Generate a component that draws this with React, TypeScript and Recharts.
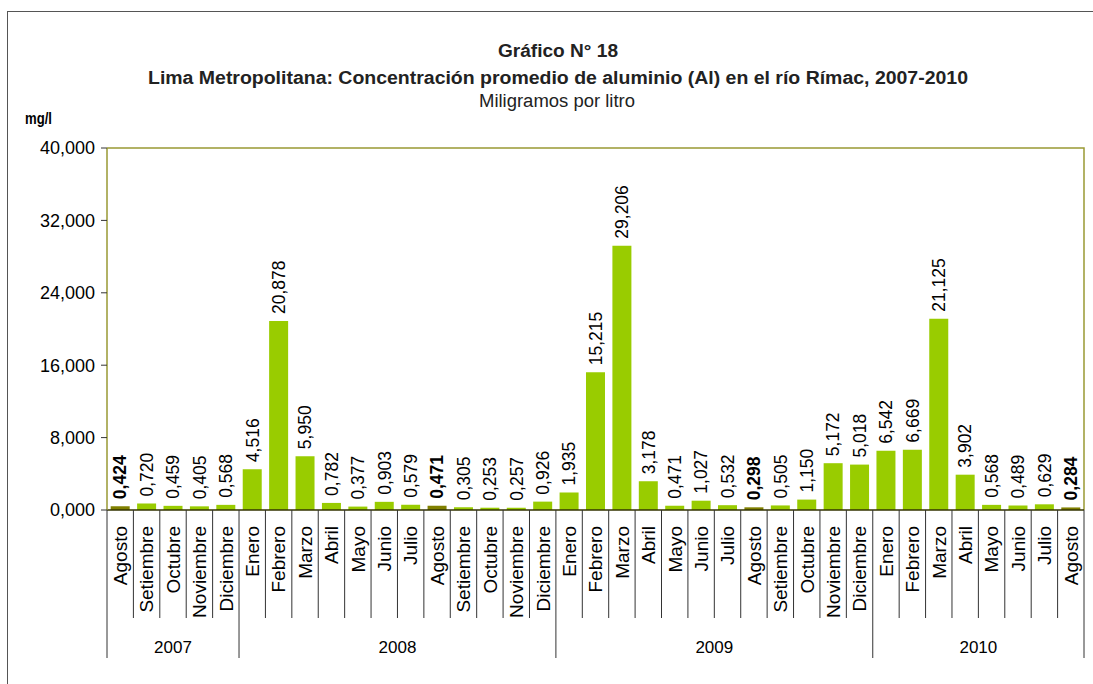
import React from 'react';
import { BarChart, Bar, XAxis, YAxis, Cell, LabelList } from 'recharts';

const months = [
  'Agosto', 'Setiembre', 'Octubre', 'Noviembre', 'Diciembre',
  'Enero', 'Febrero', 'Marzo', 'Abril', 'Mayo', 'Junio', 'Julio', 'Agosto', 'Setiembre', 'Octubre', 'Noviembre', 'Diciembre',
  'Enero', 'Febrero', 'Marzo', 'Abril', 'Mayo', 'Junio', 'Julio', 'Agosto', 'Setiembre', 'Octubre', 'Noviembre', 'Diciembre',
  'Enero', 'Febrero', 'Marzo', 'Abril', 'Mayo', 'Junio', 'Julio', 'Agosto',
];

const values = [
  0.424, 0.720, 0.459, 0.405, 0.568,
  4.516, 20.878, 5.950, 0.782, 0.377, 0.903, 0.579, 0.471, 0.305, 0.253, 0.257, 0.926,
  1.935, 15.215, 29.206, 3.178, 0.471, 1.027, 0.532, 0.298, 0.505, 1.150, 5.172, 5.018,
  6.542, 6.669, 21.125, 3.902, 0.568, 0.489, 0.629, 0.284,
];

const highlighted = [0, 12, 24, 36];

const years = ['2007', '2008', '2009', '2010'];
const yearCounts = [5, 12, 12, 8];

const yTicks = [0, 8, 16, 24, 32, 40];

const data = months.map((m, i) => ({ key: `${i}`, month: m, value: values[i] }));

const W = 1093;
const H = 684;
const PLOT_L = 107;
const PLOT_R = 1084;
const PLOT_T = 148;
const PLOT_B = 510;
const BW = (PLOT_R - PLOT_L) / months.length;
const YAXIS_W = 60;
const XAXIS_H = 150;

const FONT = '"Liberation Sans", Arial, sans-serif';
const NARROW = '"Liberation Sans Narrow", "Arial Narrow", "Liberation Sans", sans-serif';
const BAR = '#99CC00';
const BAR_DARK = '#808000';
const OLIVE = '#999933';

const fmt = (v: number) => v.toFixed(3).replace('.', ',');

const yearStarts: number[] = [];
{
  let acc = 0;
  for (const c of yearCounts) {
    yearStarts.push(acc);
    acc += c;
  }
}

const MonthTick = (props: any) => {
  const { x, index } = props;
  const left = x - BW / 2;
  const yi = yearStarts.indexOf(index);
  const ty = PLOT_B + 16;
  return (
    <g>
      <text
        x={x}
        y={ty}
        dy="0.36em"
        textAnchor="end"
        transform={`rotate(-90, ${x}, ${ty})`}
        fontSize={19}
        fontFamily={FONT}
        fill="#000"
      >
        {months[index]}
      </text>
      <line x1={left} x2={left} y1={PLOT_B} y2={yi >= 0 ? 658 : 618} stroke="#333" strokeWidth={1} />
      {index === months.length - 1 && (
        <line x1={left + BW} x2={left + BW} y1={PLOT_B} y2={658} stroke="#333" strokeWidth={1} />
      )}
      {yi >= 0 && (
        <text
          x={left + (yearCounts[yi] * BW) / 2}
          y={653}
          textAnchor="middle"
          fontSize={17}
          fontFamily={FONT}
          fill="#000"
        >
          {years[yi]}
        </text>
      )}
    </g>
  );
};

const ValueLabel = (props: any) => {
  const { x, y, width, value, index } = props;
  const cx = x + width / 2;
  const ty = y - 7;
  const bold = highlighted.includes(index);
  return (
    <text
      x={cx}
      y={ty}
      dy="0.36em"
      textAnchor="start"
      transform={`rotate(-90, ${cx}, ${ty})`}
      fontSize={17.5}
      fontWeight={bold ? 'bold' : 'normal'}
      fontFamily={FONT}
      fill="#000"
    >
      {fmt(value)}
    </text>
  );
};

export default function App() {
  return (
    <div style={{ position: 'absolute', left: 0, top: 0, width: W, height: H, background: '#fff' }}>
      <BarChart
        width={W}
        height={H}
        data={data}
        margin={{ top: PLOT_T, right: W - PLOT_R, left: PLOT_L - YAXIS_W, bottom: H - PLOT_B - XAXIS_H }}
        barCategoryGap="14%"
      >
        <rect x={7.5} y={11.5} width={1100} height={700} fill="none" stroke="#555" strokeWidth={1} />
        <polyline
          points={`${PLOT_L},${PLOT_T} ${PLOT_R},${PLOT_T} ${PLOT_R},${PLOT_B}`}
          fill="none"
          stroke={OLIVE}
          strokeWidth={1.5}
        />
        <text x={558} y={57} textAnchor="middle" fontFamily={NARROW} fontWeight="bold" fontSize={18} fill="#222" textLength={120} lengthAdjust="spacingAndGlyphs">
          Gráfico N° 18
        </text>
        <text x={558} y={84} textAnchor="middle" fontFamily={NARROW} fontWeight="bold" fontSize={18} fill="#222" textLength={820} lengthAdjust="spacingAndGlyphs">
          Lima Metropolitana: Concentración promedio de aluminio (Al) en el río Rímac, 2007-2010
        </text>
        <text x={557} y={107} textAnchor="middle" fontFamily={NARROW} fontSize={18} fill="#222" textLength={156} lengthAdjust="spacingAndGlyphs">
          Miligramos por litro
        </text>
        <text x={25} y={124} fontFamily={NARROW} fontWeight="bold" fontSize={17} fill="#000" textLength={27} lengthAdjust="spacingAndGlyphs">
          mg/l
        </text>
        <XAxis
          dataKey="key"
          interval={0}
          height={XAXIS_H}
          axisLine={{ stroke: '#333300', strokeWidth: 1.5 }}
          tickLine={false}
          tick={<MonthTick />}
        />
        <YAxis
          width={YAXIS_W}
          domain={[0, 40]}
          ticks={yTicks}
          tickFormatter={fmt}
          interval={0}
          axisLine={{ stroke: OLIVE, strokeWidth: 1.5 }}
          tickLine={{ stroke: '#333' }}
          tickSize={6}
          tickMargin={6}
          tick={{ fontSize: 18, fill: '#000', fontFamily: FONT }}
        />
        <Bar dataKey="value" isAnimationActive={false}>
          {data.map((d, i) => (
            <Cell key={d.key} fill={highlighted.includes(i) ? BAR_DARK : BAR} />
          ))}
          <LabelList dataKey="value" content={<ValueLabel />} />
        </Bar>
      </BarChart>
    </div>
  );
}
